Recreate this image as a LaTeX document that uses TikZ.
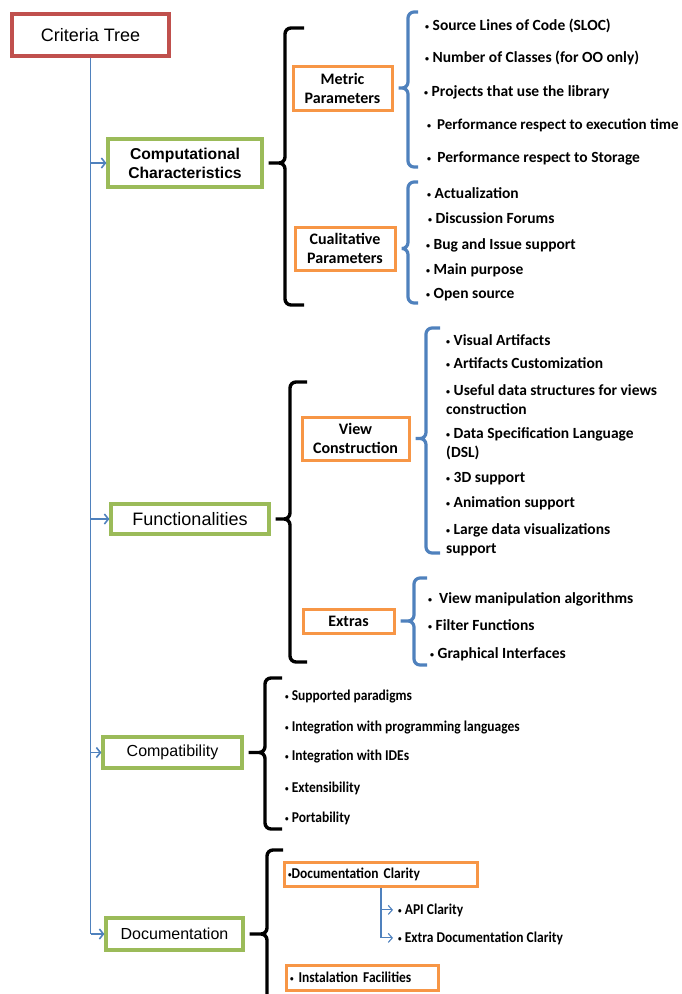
\documentclass[tikz,border=0pt]{standalone}
\usepackage{fontspec}
\setmainfont{Carlito}
\newfontfamily\arialfont{Liberation Sans}
\newfontfamily\narrowfont{Carlito}[FakeStretch=0.9]
\usepackage{xcolor}
\usetikzlibrary{arrows.meta, positioning, calc}
\definecolor{critred}{HTML}{C0504D}
\definecolor{critgreen}{HTML}{9BBB59}
\definecolor{critorange}{HTML}{F79646}
\definecolor{critblue}{HTML}{4F81BD}
% small bullet of the lists
\newcommand{\bul}{\raisebox{1pt}{\fontsize{8}{8}\selectfont •}}
% office-like brace: #1 style, #2 box it hangs on, #3 x of the bar, #4 top y, #5 bottom y, #6 arm
\newcommand{\grpbrace}[6]{%
  \draw[#1] let \p1=(#2.east) in
    (\x1+5pt,\y1) -- (#3pt,\y1) -- (#3pt,-#4pt) -- ++(#6pt,0pt)
    (\x1+5pt,\y1) -- (#3pt,\y1) -- (#3pt,-#5pt) -- ++(#6pt,0pt);
}

\begin{document}
\begin{tikzpicture}[
  x=1pt, y=-1pt,
  rootbox/.style={draw=critred, line width=3.4pt, minimum width=157pt, minimum height=42pt, font=\arialfont\fontsize{18}{20}\selectfont},
  groupbox/.style={draw=critgreen, line width=3.2pt, align=center, inner sep=2pt},
  parambox/.style={draw=critorange, line width=3pt, align=center, inner sep=2pt, font=\bfseries\fontsize{16}{19}\selectfont},
  leftbox/.style={parambox, align=left, inner sep=4pt, font=\narrowfont\bfseries\fontsize{15}{17}\selectfont},
  crit/.style={anchor=base west, inner sep=0pt, align=left, font=\bfseries\fontsize{15.5}{19}\selectfont},
  smallcrit/.style={crit, font=\narrowfont\bfseries\fontsize{15}{17}\selectfont},
  treeline/.style={critblue, line width=1.6pt},
  treearrow/.style={treeline, -{Straight Barb[length=4pt,width=10pt]}},
  subarrow/.style={critblue, line width=1.1pt, -{Straight Barb[length=4pt,width=9pt]}, shorten >=5pt},
  blackbrace/.style={black, line width=3.4pt, rounded corners=6pt},
  bluebrace/.style={critblue, line width=3.2pt, rounded corners=6pt},
]
  \useasboundingbox (0,0) rectangle (681,994);
  \clip (0,0) rectangle (681,994);

  % Root
  \node[rootbox] (root) at (90.5,35) {Criteria Tree};

  % Green groups
  \node[groupbox, minimum width=154pt, minimum height=48pt, font=\arialfont\bfseries\fontsize{15.7}{19}\selectfont] (comp) at (185,163) {Computational\\Characteristics};
  \node[groupbox, minimum width=158pt, minimum height=30pt, font=\arialfont\fontsize{18}{20}\selectfont] (func) at (190,519) {Functionalities};
  \node[groupbox, minimum width=139pt, minimum height=31pt, font=\arialfont\fontsize{16}{18}\selectfont] (compat) at (172.5,752.5) {Compatibility};
  \node[groupbox, minimum width=137pt, minimum height=32pt, font=\arialfont\fontsize{16}{18}\selectfont] (doc) at (174.5,934) {Documentation};

  % Orange sub-groups
  \node[parambox, minimum width=99pt, minimum height=44pt] (metric) at (342.5,88) {Metric\\Parameters};
  \node[parambox, minimum width=100pt, minimum height=43pt] (cual) at (345,248.5) {Cualitative\\Parameters};
  \node[parambox, minimum width=107pt, minimum height=43pt] (view) at (355.5,438.5) {View\\Construction};
  \node[parambox, minimum width=91pt, minimum height=24pt] (extras) at (348.5,621) {Extras};
  \node[leftbox, text width=185pt, minimum height=24pt] (dclar) at (380.5,874) {\bul Documentation Clarity};
  \node[leftbox, text width=144pt, minimum height=25pt] (inst) at (362,977.5) {\bul\ Instalation Facilities};

  % Metric parameters
  \node[crit] (m1) at (425,30) {\bul\ Source Lines of Code (SLOC)};
  \node[crit] (m2) at (425,62) {\bul\ Number of Classes (for OO only)};
  \node[crit] (m3) at (424,96) {\bul\ Projects that use the library};
  \node[crit, font=\bfseries\fontsize{15}{19}\selectfont] (m4) at (427,129) {\bul\ \,Performance respect to execution time};
  \node[crit] (m5) at (427,162) {\bul\ \,Performance respect to Storage};

  % Cualitative parameters
  \node[crit] (c1) at (427,198) {\bul\ Actualization};
  \node[crit] (c2) at (428,223) {\bul\ Discussion Forums};
  \node[crit] (c3) at (426,249) {\bul\ Bug and Issue support};
  \node[crit] (c4) at (426,274) {\bul\ Main purpose};
  \node[crit] (c5) at (426,298) {\bul\ Open source};

  % View construction (two-line items: last baseline)
  \node[crit] (v1) at (446,345) {\bul\ Visual Artifacts};
  \node[crit] (v2) at (446,368) {\bul\ Artifacts Customization};
  \node[crit] (v3) at (446,414) {\bul\ Useful data structures for views\\construction};
  \node[crit] (v4) at (446,457) {\bul\ Data Specification Language\\(DSL)};
  \node[crit] (v5) at (446,482) {\bul\ 3D support};
  \node[crit] (v6) at (446,507) {\bul\ Animation support};
  \node[crit] (v7) at (446,553) {\bul\ Large data visualizations\\support};

  % Extras
  \node[crit] (e1) at (428,603) {\bul\ \ View manipulation algorithms};
  \node[crit] (e2) at (428,630) {\bul\ Filter Functions};
  \node[crit] (e3) at (430,658) {\bul\ Graphical Interfaces};

  % Compatibility
  \node[smallcrit] (p1) at (285,700) {\bul\ Supported paradigms};
  \node[smallcrit] (p2) at (285,731) {\bul\ Integration with programming languages};
  \node[smallcrit] (p3) at (285,760) {\bul\ Integration with IDEs};
  \node[smallcrit] (p4) at (285,792) {\bul\ Extensibility};
  \node[smallcrit] (p5) at (285,822) {\bul\ Portability};

  % Documentation clarity
  \node[smallcrit] (api) at (398,914) {\bul\ API Clarity};
  \node[smallcrit] (xtra) at (398,942) {\bul\ Extra Documentation Clarity};

  % Tree connectors
  \draw[treeline] (root.south) -- (root.south |- doc.west);
  \draw[treearrow] (root.south |- comp.west) -- (comp.west);
  \draw[treearrow] (root.south |- func.west) -- (func.west);
  \draw[treearrow] (root.south |- compat.west) -- (compat.west);
  \draw[treearrow] (root.south |- doc.west) -- (doc.west);

  \coordinate (dcv) at (381,886);
  \draw[critblue, line width=1.1pt] (dclar.south -| dcv) -- (dcv |- xtra.west);
  \draw[subarrow] (dcv |- api.west) -- (api.west);
  \draw[subarrow] (dcv |- xtra.west) -- (xtra.west);

  % Braces
  \grpbrace{blackbrace}{comp}{285}{28}{305}{19}
  \grpbrace{bluebrace}{metric}{408}{12}{167}{10}
  \grpbrace{bluebrace}{cual}{408}{182}{303}{10}
  \grpbrace{blackbrace}{func}{290}{382}{662}{17}
  \grpbrace{bluebrace}{view}{426}{328}{553}{14}
  \grpbrace{bluebrace}{extras}{414}{578}{665}{13}
  \grpbrace{blackbrace}{compat}{265}{678}{829}{17}
  \grpbrace{blackbrace}{doc}{267}{850}{1010}{16}
\end{tikzpicture}
\end{document}
